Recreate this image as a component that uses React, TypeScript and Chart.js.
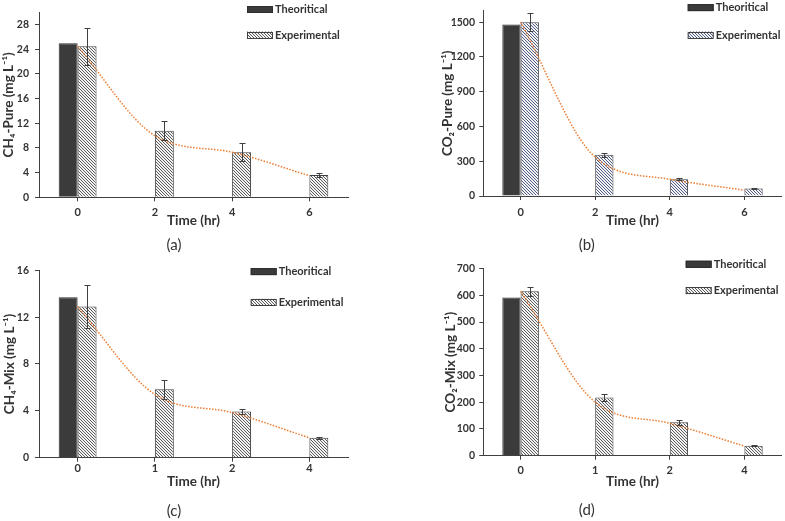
import React, { useEffect, useRef } from "react";
import { Chart, registerables } from "chart.js";
Chart.register(...registerables);

// ---- Data ----
// (a) CH4-Pure
const timeA = ["0", "2", "4", "6"];
const theoA = [25.0, null, null, null];
const expA = [24.5, 10.8, 7.3, 3.6];
const errA = [3.0, 1.5, 1.45, 0.3];
const trendA = [24.5, 10.0, 7.3, 3.5];

// (b) CO2-Pure
const timeB = ["0", "2", "4", "6"];
const theoB = [1480, null, null, null];
const expB = [1500, 355, 145, 65];
const errB = [75, 15, 8, 3];
const trendB = [1500, 335, 145, 50];

// (c) CH4-Mix
const timeC = ["0", "1", "2", "4"];
const theoC = [13.7, null, null, null];
const expC = [12.9, 5.85, 3.95, 1.7];
const errC = [1.85, 0.8, 0.2, 0.08];
const trendC = [12.9, 5.4, 3.85, 1.7];

// (d) CO2-Mix
const timeD = ["0", "1", "2", "4"];
const theoD = [592, null, null, null];
const expD = [615, 218, 125, 37];
const errD = [18, 12, 10, 2];
const trendD = [615, 200, 121, 36];

const seriesNames = ["Theoritical", "Experimental"];

const FONT = "Lato, 'Open Sans', sans-serif";
const AXIS = "#404040";
const TEXT = "#333333";

type Panel = {
  left: number; top: number; w: number; h: number;
  labels: string[]; theo: (number | null)[]; exp: number[]; err: number[]; trend: number[];
  yMax: number; yStep: number; yTitle: string; sub: string; hatch: string;
  area: { l: number; t: number; r: number; b: number };
  yTitleCenter: number; yTickPad: number; xTickPad: number; xTitlePad: number; subPad: number;
  legend: { x: number; y1: number; y2: number };
};

const panels: Panel[] = [
  {
    left: 0, top: 0, w: 392, h: 258,
    labels: timeA, theo: theoA, exp: expA, err: errA, trend: trendA,
    yMax: 30, yStep: 4, yTitle: "CH₄-Pure (mg L⁻¹)", sub: "(a)", hatch: "#5a5a5a",
    area: { l: 39, t: 8.4, r: 348, b: 197.3 },
    yTitleCenter: 9, yTickPad: 6, xTickPad: 4.2, xTitlePad: 7.8, subPad: 3.6,
    legend: { x: 247, y1: 9.5, y2: 35 },
  },
  {
    left: 392, top: 0, w: 393, h: 258,
    labels: timeB, theo: theoB, exp: expB, err: errB, trend: trendB,
    yMax: 1600, yStep: 300, yTitle: "CO₂-Pure (mg L⁻¹)", sub: "(b)", hatch: "#4f5c86",
    area: { l: 91.3, t: 9, r: 389.7, b: 196 },
    yTitleCenter: 55.3, yTickPad: 4.3, xTickPad: 5.8, xTitlePad: 7.8, subPad: 3.9,
    legend: { x: 295.7, y1: 7.7, y2: 35 },
  },
  {
    left: 0, top: 258, w: 392, h: 263,
    labels: timeC, theo: theoC, exp: expC, err: errC, trend: trendC,
    yMax: 16, yStep: 4, yTitle: "CH₄-Mix (mg L⁻¹)", sub: "(c)", hatch: "#5a5a5a",
    area: { l: 39, t: 11.3, r: 348, b: 199.7 },
    yTitleCenter: 9.5, yTickPad: 6, xTickPad: 0, xTitlePad: 12.8, subPad: 0.9,
    legend: { x: 250.7, y1: 13.7, y2: 44.3 },
  },
  {
    left: 392, top: 258, w: 393, h: 263,
    labels: timeD, theo: theoD, exp: expD, err: errD, trend: trendD,
    yMax: 700, yStep: 100, yTitle: "CO₂-Mix (mg L⁻¹)", sub: "(d)", hatch: "#5a5a5a",
    area: { l: 91.3, t: 7, r: 389.7, b: 197.7 },
    yTitleCenter: 58.7, yTickPad: 4.3, xTickPad: 4.2, xTitlePad: 12.1, subPad: 1.6,
    legend: { x: 293.7, y1: 6, y2: 32.7 },
  },
];

function makeHatch(color: string): CanvasPattern | string {
  const s = 3;
  const c = document.createElement("canvas");
  c.width = s;
  c.height = s;
  const g = c.getContext("2d");
  if (!g) return color;
  g.fillStyle = "#f4f4f4";
  g.fillRect(0, 0, s, s);
  g.strokeStyle = color;
  g.lineWidth = 1;
  g.beginPath();
  g.moveTo(-1, -1); g.lineTo(s + 1, s + 1);
  g.moveTo(-1, s - 1); g.lineTo(1, s + 1);
  g.moveTo(s - 1, -1); g.lineTo(s + 1, 1);
  g.stroke();
  const p = g.createPattern(c, "repeat");
  return p || color;
}

function PanelChart({ p }: { p: Panel }) {
  const ref = useRef<HTMLCanvasElement | null>(null);
  useEffect(() => {
    if (!ref.current) return;
    const hatch = makeHatch(p.hatch);
    const subFont = 15;
    const xAxisH = p.h - subFont * 1.2 - p.subPad - p.area.b;
    const yTitleSize = 13.5;

    const errorBars = {
      id: "errorBars",
      afterDatasetsDraw(chart: any) {
        const ctx = chart.ctx;
        const y = chart.scales.y;
        chart.data.datasets.forEach((ds: any, di: number) => {
          if (!ds.errorBars) return;
          const meta = chart.getDatasetMeta(di);
          ctx.save();
          ctx.strokeStyle = AXIS;
          ctx.lineWidth = 1;
          meta.data.forEach((bar: any, i: number) => {
            const v = ds.data[i];
            const e = ds.errorBars[i];
            if (v == null || e == null) return;
            const x = Math.round(bar.x) + 0.5;
            const yt = Math.round(y.getPixelForValue(v + e)) + 0.5;
            const yb = Math.round(y.getPixelForValue(v - e)) + 0.5;
            ctx.beginPath();
            ctx.moveTo(x, yt); ctx.lineTo(x, yb);
            ctx.moveTo(x - 3, yt); ctx.lineTo(x + 3, yt);
            ctx.moveTo(x - 3, yb); ctx.lineTo(x + 3, yb);
            ctx.stroke();
          });
          ctx.restore();
        });
      },
    };

    const cornerLegend = {
      id: "cornerLegend",
      afterDraw(chart: any) {
        const ctx = chart.ctx;
        const rows = [p.legend.y1, p.legend.y2];
        const items = chart.data.datasets.filter((d: any) => d.type === "bar");
        ctx.save();
        items.forEach((d: any, i: number) => {
          const cy = rows[i];
          ctx.fillStyle = d.backgroundColor;
          ctx.fillRect(p.legend.x, cy - 3.5, 26, 7);
          ctx.strokeStyle = d.borderColor;
          ctx.lineWidth = 1;
          ctx.strokeRect(p.legend.x + 0.5, Math.round(cy - 3.5) + 0.5, 25, 6);
          ctx.fillStyle = TEXT;
          ctx.font = `bold 11px ${FONT}`;
          ctx.textBaseline = "middle";
          ctx.textAlign = "left";
          ctx.fillText(d.label, p.legend.x + 28, cy);
        });
        ctx.restore();
      },
    };

    const chart = new Chart(ref.current, {
      type: "bar",
      data: {
        labels: p.labels,
        datasets: [
          {
            type: "line",
            label: "Trend",
            data: p.trend,
            borderColor: "#ED7D31",
            borderWidth: 1.5,
            borderDash: [1.5, 1.5],
            pointRadius: 0,
            tension: 0.4,
            cubicInterpolationMode: "monotone",
            fill: false,
            order: 0,
          } as any,
          {
            type: "bar",
            label: seriesNames[0],
            data: p.theo,
            backgroundColor: "#3b3b3b",
            borderColor: "#2e2e2e",
            borderWidth: 1,
            barPercentage: 1,
            categoryPercentage: 0.49,
            order: 1,
          } as any,
          {
            type: "bar",
            label: seriesNames[1],
            data: p.exp,
            errorBars: p.err,
            backgroundColor: hatch,
            borderColor: "#404040",
            borderWidth: 1,
            barPercentage: 1,
            categoryPercentage: 0.49,
            order: 1,
          } as any,
        ],
      },
      options: {
        animation: false,
        responsive: false,
        devicePixelRatio: 1,
        layout: {
          padding: { left: 0, top: p.area.t, right: p.w - p.area.r, bottom: 0 },
        },
        plugins: {
          legend: { display: false },
          tooltip: { enabled: false },
          title: {
            display: true,
            text: p.sub,
            position: "bottom",
            color: TEXT,
            font: { family: FONT, size: subFont, weight: "normal" },
            padding: { top: 0, bottom: p.subPad },
          },
        },
        scales: {
          x: {
            type: "category",
            offset: true,
            grid: { offset: false, drawOnChartArea: false, tickLength: 4, color: AXIS },
            border: { color: AXIS, width: 1 },
            ticks: { padding: p.xTickPad, color: TEXT, font: { family: FONT, size: 11, weight: "bold" } },
            title: {
              display: true,
              text: "Time (hr)",
              color: TEXT,
              font: { family: FONT, size: 13.5, weight: "bold" },
              padding: { top: 0, bottom: p.xTitlePad },
            },
            afterFit: (s: any) => { s.height = xAxisH; },
          },
          y: {
            type: "linear",
            min: 0,
            max: p.yMax,
            grid: { drawOnChartArea: false, tickLength: 4, color: AXIS },
            border: { color: AXIS, width: 1 },
            ticks: {
              stepSize: p.yStep,
              includeBounds: false,
              padding: p.yTickPad,
              color: TEXT,
              font: { family: FONT, size: 10.5, weight: "bold" },
              callback: (v: any) => String(v),
            },
            title: {
              display: true,
              text: p.yTitle,
              color: TEXT,
              font: { family: FONT, size: yTitleSize, weight: "bold" },
              padding: { top: p.yTitleCenter - (yTitleSize * 1.2) / 2, bottom: 0 },
            },
            afterFit: (s: any) => { s.width = p.area.l; },
          },
        },
      } as any,
      plugins: [errorBars, cornerLegend],
    });
    return () => chart.destroy();
  }, [p]);

  return (
    <canvas
      ref={ref}
      width={p.w}
      height={p.h}
      style={{ position: "absolute", left: p.left, top: p.top, width: p.w, height: p.h }}
    />
  );
}

export default function App() {
  return (
    <div style={{ position: "absolute", left: 0, top: 0, width: 785, height: 521, background: "#ffffff", overflow: "hidden" }}>
      {panels.map((p, i) => (
        <PanelChart key={i} p={p} />
      ))}
    </div>
  );
}
